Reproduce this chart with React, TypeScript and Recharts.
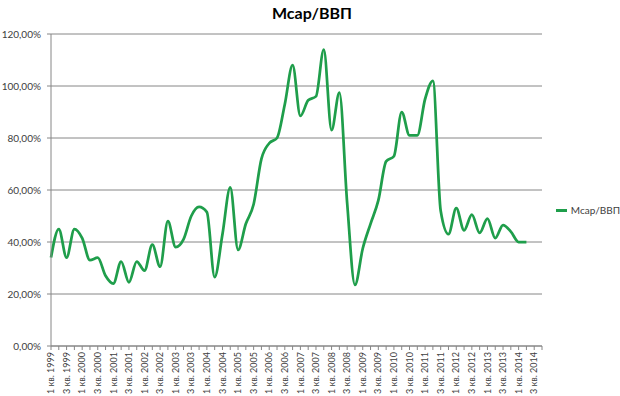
import React from "react";
import { LineChart, Line, XAxis, YAxis, CartesianGrid, Legend } from "recharts";

const years = [1999, 2000, 2001, 2002, 2003, 2004, 2005, 2006, 2007, 2008, 2009, 2010, 2011, 2012, 2013, 2014];
const quarters = [1, 2, 3, 4];

// Mcap / ВВП, % (1 кв. 1999 – 2 кв. 2014)
const mcapGdp = [
  34, 45, 34, 45, 41.5, 33, 34, 27, 24, 32.5, 24.5, 32.5, 29, 39, 30.5, 48,
  38, 41, 50, 53.5, 51.5, 26.5, 43, 61, 37, 47, 54.5, 72, 78, 80, 93, 108,
  88.5, 94.5, 96, 114, 83, 97.5, 55, 23.5, 37.5, 47, 56, 71, 73, 90, 81, 81,
  95, 102, 52, 43, 53, 44.5, 50.5, 43.5, 49, 41.5, 46.5, 44, 40, 40,
];

const yTicks = [0, 20, 40, 60, 80, 100, 120];

const data = years.flatMap((y, yi) =>
  quarters.map((q, qi) => ({
    label: `${q} кв. ${y}`,
    value: mcapGdp[yi * 4 + qi] ?? null,
  }))
);

const FONT = "Lato, 'Open Sans', sans-serif";
const AXIS = "#868686";
const TEXT = "#404040";
const GREEN = "#1f9e4b";

function QuarterTick(props: any) {
  const { x, y, payload, index } = props;
  if (index % 2 !== 0) return <g />;
  return (
    <g transform={`translate(${x},${y})`}>
      <text
        transform="rotate(-90)"
        textAnchor="end"
        dy="0.35em"
        fontSize={9}
        fontFamily={FONT}
        fill={TEXT}
      >
        {payload.value}
      </text>
    </g>
  );
}

function SeriesLegend(props: any) {
  const { payload } = props;
  return (
    <div style={{ whiteSpace: "nowrap", fontFamily: FONT, fontSize: 10, color: TEXT }}>
      {(payload || []).map((p: any) => (
        <div key={p.value} style={{ display: "flex", alignItems: "center", height: 16 }}>
          <span style={{ display: "inline-block", width: 18, height: 3, background: p.color, marginRight: 4 }} />
          <span>{p.value}</span>
        </div>
      ))}
    </div>
  );
}

export default function App() {
  return (
    <div style={{ position: "absolute", left: 0, top: 0, width: 620, height: 396, background: "#fff" }}>
      <div
        style={{
          position: "absolute",
          left: 0,
          top: 3,
          width: 624,
          textAlign: "center",
          fontFamily: FONT,
          fontWeight: 700,
          fontSize: 16,
          color: "#000",
        }}
      >
        Mcap/ВВП
      </div>
      <LineChart
        width={620}
        height={396}
        data={data}
        margin={{ top: 34, right: 78, bottom: 0, left: 0 }}
      >
        <CartesianGrid vertical={false} stroke={AXIS} strokeWidth={1} />
        <XAxis
          dataKey="label"
          interval={0}
          height={50}
          tick={<QuarterTick />}
          tickSize={4}
          tickMargin={2}
          stroke={AXIS}
          tickLine={{ stroke: AXIS }}
        />
        <YAxis
          domain={[0, 120]}
          ticks={yTicks}
          width={51}
          tickSize={4}
          tickMargin={6}
          stroke={AXIS}
          tickFormatter={(v: number) => v.toFixed(2).replace(".", ",") + "%"}
          tick={{ fontSize: 10, fontFamily: FONT, fill: TEXT }}
        />
        <Legend
          layout="vertical"
          align="center"
          verticalAlign="middle"
          content={<SeriesLegend />}
          wrapperStyle={{ left: 556, top: 202, width: 64 }}
        />
        <Line
          name="Mcap/ВВП"
          dataKey="value"
          type="monotone"
          stroke={GREEN}
          strokeWidth={2.75}
          dot={false}
          legendType="plainline"
          isAnimationActive={false}
          connectNulls={false}
        />
      </LineChart>
    </div>
  );
}
